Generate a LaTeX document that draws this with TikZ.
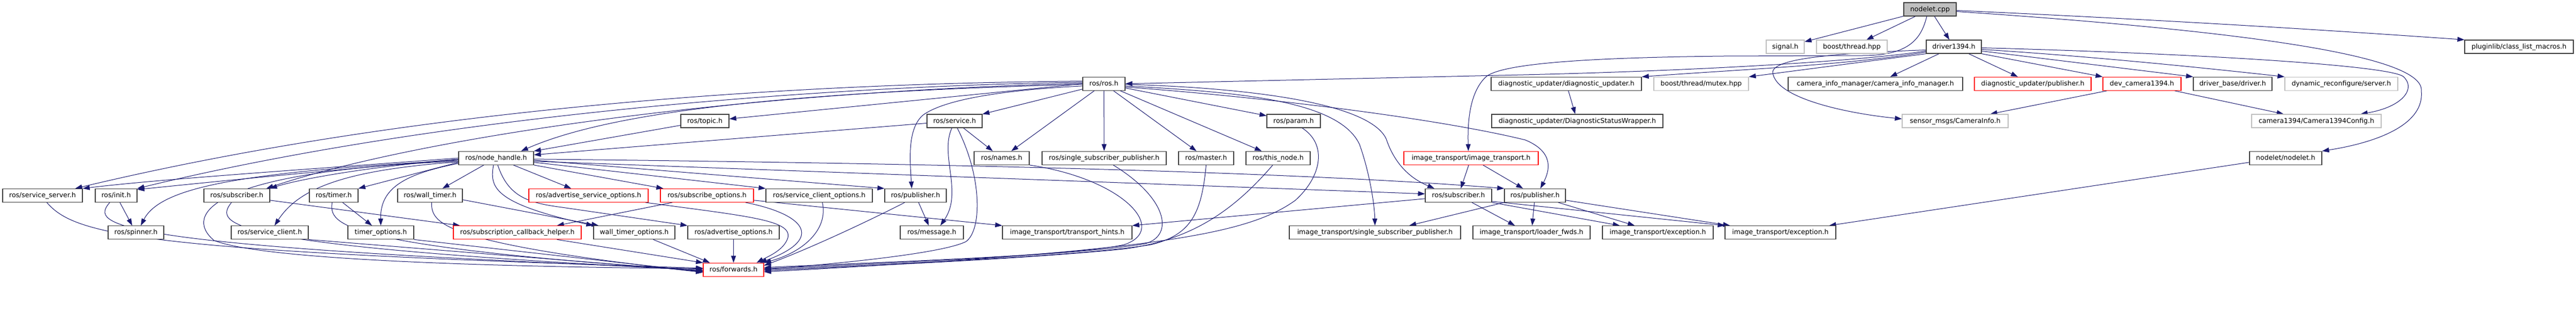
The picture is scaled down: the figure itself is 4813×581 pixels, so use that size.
\documentclass[tikz,border=0pt]{standalone}
\usepackage{fontspec}
\setmainfont{DejaVu Sans}
\usetikzlibrary{arrows.meta,calc,backgrounds}
\definecolor{edgeblue}{HTML}{191970}
\definecolor{boxgray}{HTML}{BFBFBF}
\definecolor{boxborder}{HTML}{404040}
\newcommand\gn[6]{\node[#6, minimum width=#4pt] (#1) at (#2,#3) {#5};}
\begin{document}
\begin{tikzpicture}[x=1pt,y=-1pt,
  every node/.style={font=\fontsize{12.5pt}{15pt}\selectfont, inner sep=0pt, minimum height=25pt, text height=9.5pt, text depth=2pt, line width=1.2pt},
  nbox/.style={draw=boxborder, fill=white},
  rbox/.style={draw=red, fill=white},
  gbox/.style={draw=boxgray, fill=white},
  rootbox/.style={draw=boxborder, fill=boxgray},
  edg/.style={draw=edgeblue, line width=1pt, -{Triangle[length=13pt,width=9pt]}},
]
\useasboundingbox (0,0) rectangle (4813,581);
% row 0
\gn{nodelet}{3606}{17.5}{98}{nodelet.cpp}{rootbox}
% row 1
\gn{signal}{3335.5}{87.5}{71}{signal.h}{gbox}
\gn{bthread}{3460}{87.5}{132}{boost/thread.hpp}{gbox}
\gn{driver}{3650.5}{87.5}{103}{driver1394.h}{nbox}
\gn{plugin}{4706.5}{87.5}{203}{pluginlib/class\_list\_macros.h}{nbox}
% row 2
\gn{rosh}{2062.5}{156.8}{79}{ros/ros.h}{nbox}
\gn{diagupd}{2926.5}{156.8}{281}{diagnostic\_updater/diagnostic\_updater.h}{nbox}
\gn{mutex}{3178.5}{156.8}{177}{boost/thread/mutex.hpp}{gbox}
\gn{caminfo}{3504}{156.8}{326}{camera\_info\_manager/camera\_info\_manager.h}{nbox}
\gn{diagpub}{3798}{156.8}{218}{diagnostic\_updater/publisher.h}{rbox}
\gn{devcam}{4002}{156.8}{146}{dev\_camera1394.h}{rbox}
\gn{drvbase}{4171.5}{156.8}{147}{driver\_base/driver.h}{nbox}
\gn{dynrec}{4374.5}{156.8}{211}{dynamic\_reconfigure/server.h}{gbox}
% row 3
\gn{topic}{1317}{226.5}{90}{ros/topic.h}{nbox}
\gn{service}{1783.5}{226.5}{103}{ros/service.h}{nbox}
\gn{param}{2417}{226.5}{100}{ros/param.h}{nbox}
\gn{diagstat}{2947}{226.5}{320}{diagnostic\_updater/DiagnosticStatusWrapper.h}{nbox}
\gn{sensor}{3653}{226.5}{198}{sensor\_msgs/CameraInfo.h}{gbox}
\gn{camcfg}{4328}{226.5}{242}{camera1394/Camera1394Config.h}{gbox}
% row 4
\gn{nh}{927}{295.8}{140}{ros/node\_handle.h}{nbox}
\gn{names}{1871.5}{295.8}{103}{ros/names.h}{nbox}
\gn{ssp}{2063}{295.8}{232}{ros/single\_subscriber\_publisher.h}{nbox}
\gn{master}{2253.5}{295.8}{103}{ros/master.h}{nbox}
\gn{thisnode}{2388}{295.8}{120}{ros/this\_node.h}{nbox}
\gn{itrans}{2748.5}{295.8}{251}{image\_transport/image\_transport.h}{rbox}
\gn{nodeleth}{4270.5}{295.8}{135}{nodelet/nodelet.h}{nbox}
% row 5
\gn{sserver}{79.5}{365.8}{149}{ros/service\_server.h}{nbox}
\gn{init}{217}{365.8}{78}{ros/init.h}{nbox}
\gn{sub1}{442.5}{365.8}{123}{ros/subscriber.h}{nbox}
\gn{timer}{623.5}{365.8}{91}{ros/timer.h}{nbox}
\gn{wtimer}{803.5}{365.8}{121}{ros/wall\_timer.h}{nbox}
\gn{aso}{1099.5}{365.8}{223}{ros/advertise\_service\_options.h}{rbox}
\gn{subopt}{1321}{365.8}{174}{ros/subscribe\_options.h}{rbox}
\gn{sco}{1530.5}{365.8}{199}{ros/service\_client\_options.h}{nbox}
\gn{pub1}{1710.5}{365.8}{115}{ros/publisher.h}{nbox}
\gn{sub2}{2725}{365.8}{124}{ros/subscriber.h}{nbox}
\gn{pub2}{2868}{365.8}{114}{ros/publisher.h}{nbox}
% row 6
\gn{spinner}{254}{435.2}{104}{ros/spinner.h}{nbox}
\gn{sclient}{504}{435.2}{144}{ros/service\_client.h}{nbox}
\gn{topt}{711.5}{435.2}{123}{timer\_options.h}{nbox}
\gn{sch}{966.5}{435.2}{239}{ros/subscription\_callback\_helper.h}{rbox}
\gn{wtopt}{1185}{435.2}{152}{wall\_timer\_options.h}{nbox}
\gn{aopt}{1370.5}{435.2}{171}{ros/advertise\_options.h}{nbox}
\gn{msg}{1741}{435.2}{118}{ros/message.h}{nbox}
\gn{thints}{1994}{435.2}{242}{image\_transport/transport\_hints.h}{nbox}
\gn{itssp}{2569}{435.2}{320}{image\_transport/single\_subscriber\_publisher.h}{nbox}
\gn{loader}{2861.5}{435.2}{219}{image\_transport/loader\_fwds.h}{nbox}
\gn{exc1}{3097.5}{435.2}{207}{image\_transport/exception.h}{nbox}
\gn{exc2}{3326.5}{435.2}{207}{image\_transport/exception.h}{nbox}
% row 7
\gn{fwd}{1370.5}{504.8}{113}{ros/forwards.h}{rbox}

\begin{scope}[on background layer]
\fill[white] (0,0) rectangle (4813,581);
% nodelet.cpp
\draw[edg] (nodelet) -- (signal);
\draw[edg] (nodelet) -- (bthread);
\draw[edg] (nodelet) -- (driver);
\draw[edg] ($(nodelet.east)+(0,2)$) .. controls (4100,40) and (4400,60) .. (plugin.north west);
\draw[edg] ($(nodelet.east)+(0,4)$) .. controls (4150,55) and (4530,100) .. (4524,170) .. controls (4530,230) and (4450,265) .. (nodeleth.north east);
\draw[edg] ($(nodelet.south)+(-6,0)$) .. controls (3590,70) and (3570,104) .. (3480,104) -- (3220,105) .. controls (2950,108) and (2800,120) .. (2775,145) .. controls (2745,175) and (2742,230) .. ($(itrans.north)+(-5,0)$);
% driver1394.h
\draw[edg] ($(driver.west)+(0,8)$) .. controls (3450,118) and (3100,135) .. (2800,141) -- (rosh.east);
\draw[edg] ($(driver.west)+(0,10)$) .. controls (3450,122) and (3250,130) .. (diagupd.north east);
\draw[edg] (driver.south west) -- (mutex.north east);
\draw[edg] ($(driver.west)+(0,6)$) .. controls (3420,100) and (3300,110) .. (3313,140) .. controls (3325,185) and (3450,212) .. ($(sensor.west)+(0,-4)$);
\draw[edg] (driver) -- (caminfo);
\draw[edg] (driver) -- (diagpub);
\draw[edg] (driver.south east) -- (devcam.north west);
\draw[edg] ($(driver.east)+(0,8)$) -- (drvbase.north west);
\draw[edg] ($(driver.east)+(0,5)$) .. controls (3900,105) and (4100,125) .. (dynrec.north west);
\draw[edg] ($(driver.east)+(0,2)$) .. controls (4100,100) and (4460,122) .. (4490,143) .. controls (4515,165) and (4490,200) .. ($(camcfg.north east)+(-39,0)$);
\draw[edg] (devcam) -- (sensor);
\draw[edg] (devcam) -- (camcfg);
\draw[edg] (diagupd) -- (diagstat);
% ros/ros.h
\draw[edg] (rosh.west) -- ($(topic.east)+(0,-4)$);
\draw[edg] (rosh) -- (service);
\draw[edg] (rosh) -- (names);
\draw[edg] (rosh) -- (ssp);
\draw[edg] (rosh) -- (master);
\draw[edg] (rosh) -- (thisnode);
\draw[edg] (rosh) -- (param);
\draw[edg] ($(rosh.west)+(0,-5)$) .. controls (1600,155) and (840,185) .. ($(sserver.north east)+(-14,0)$);
\draw[edg] ($(rosh.west)+(0,-3)$) .. controls (1500,162) and (800,220) .. (init.north east);
\draw[edg] ($(rosh.west)+(0,-1)$) .. controls (1300,175) and (750,268) .. ($(sub1.north east)+(-7,0)$);
\draw[edg] ($(rosh.west)+(0,1)$) .. controls (1500,172) and (1150,205) .. ($(nh.north east)+(-24,0)$);
\draw[edg] ($(rosh.west)+(0,4)$) .. controls (1850,170) and (1760,190) .. (1725,215) .. controls (1695,240) and (1700,300) .. ($(pub1.north)+(-7,0)$);
\draw[edg] ($(rosh.east)+(0,1)$) .. controls (2350,165) and (2560,195) .. (2590,260) .. controls (2610,320) and (2650,340) .. ($(sub2.north)+(-45,0)$);
\draw[edg] ($(rosh.east)+(0,4)$) .. controls (2300,172) and (2500,185) .. (2540,270) .. controls (2558,320) and (2568,380) .. (itssp.north);
\draw[edg] ($(rosh.east)+(0,6)$) .. controls (2400,185) and (2700,225) .. (2850,262) .. controls (2905,285) and (2895,320) .. ($(pub2.north)+(10,0)$);
% topic, service
\draw[edg] ($(topic.west)+(0,8)$) -- (nh.north east);
\draw[edg] ($(service.west)+(0,4)$) -- ($(nh.east)+(0,-6)$);
\draw[edg] (service) -- (names);
\draw[edg] ($(service.south)+(-5,0)$) .. controls (1755,290) and (1800,360) .. ($(msg.north)+(16,0)$);
\draw[edg] ($(service.south)+(5,0)$) .. controls (1835,330) and (1835,430) .. (1805,452) .. controls (1760,475) and (1550,495) .. ($(fwd.east)+(0,-1)$);
% node_handle
\draw[edg] (nh.west) .. controls (600,315) and (300,335) .. (sserver.north east);
\draw[edg] ($(nh.west)+(0,2)$) .. controls (600,320) and (400,340) .. ($(init.north east)+(0,2)$);
\draw[edg] ($(nh.west)+(0,4)$) .. controls (450,322) and (300,350) .. ($(spinner.north)+(9,0)$);
\draw[edg] ($(nh.west)+(0,3)$) .. controls (700,310) and (560,335) .. (sub1.north east);
\draw[edg] ($(nh.west)+(0,6)$) .. controls (400,320) and (340,400) .. (400,450) .. controls (500,490) and (1000,500) .. ($(fwd.west)+(0,-2)$);
\draw[edg] ($(nh.west)+(0,8)$) -- (timer.north east);
\draw[edg] ($(nh.west)+(0,7)$) .. controls (650,318) and (560,350) .. ($(sclient.north)+(9,0)$);
\draw[edg] ($(nh.west)+(0,10)$) .. controls (760,325) and (710,350) .. (topt.north);
\draw[edg] (nh) -- (wtimer);
\draw[edg] (nh) -- (aso);
\draw[edg] ($(nh.south)+(-5,0)$) .. controls (915,350) and (920,380) .. (wtopt.north west);
\draw[edg] ($(nh.south)+(3,0)$) .. controls (950,370) and (990,380) .. (1050,388) -- (aopt.north west);
\draw[edg] (nh.south east) -- ($(subopt.north west)+(6,0)$);
\draw[edg] ($(nh.east)+(0,8)$) -- (sco.north west);
\draw[edg] ($(nh.east)+(0,4)$) -- (pub1.north west);
\draw[edg] ($(nh.east)+(0,6)$) -- ($(sub2.west)+(0,-3)$);
\draw[edg] ($(nh.east)+(0,2)$) .. controls (1700,305) and (2400,320) .. (pub2.north west);
% row 5 to row 6
\draw[edg] (init) -- (spinner);
\draw[edg] ($(sub1.east)+(0,9)$) -- ($(sch.north west)+(13,0)$);
\draw[edg] (timer) -- (topt);
\draw[edg] ($(wtimer.east)+(0,8)$) -- ($(wtopt.north west)+(10,0)$);
\draw[edg] ($(subopt.south west)+(23,0)$) -- ($(sch.north east)+(-46,0)$);
\draw[edg] ($(subopt.east)+(0,9)$) -- (thints.north west);
\draw[edg] (pub1) -- (msg);
% into ros/forwards.h
\draw[edg] ($(sserver.south)+(8,0)$) .. controls (140,440) and (260,470) .. ($(fwd.west)+(0,-3)$);
\draw[edg] ($(init.south)+(-12,0)$) .. controls (170,420) and (180,460) .. ($(fwd.west)+(0,-1)$);
\draw[edg] ($(sub1.south)+(-10,0)$) .. controls (400,420) and (410,460) .. ($(fwd.west)+(0,1)$);
\draw[edg] ($(timer.south)+(-3,0)$) .. controls (615,420) and (630,460) .. ($(fwd.west)+(0,2)$);
\draw[edg] (sclient.south east) -- ($(fwd.west)+(0,3)$);
\draw[edg] (topt.south east) -- ($(fwd.west)+(0,4)$);
\draw[edg] ($(wtimer.south)+(3,0)$) .. controls (805,420) and (830,455) .. ($(fwd.west)+(0,5)$);
\draw[edg] ($(sch.south east)+(-46,0)$) -- (fwd.north west);
\draw[edg] ($(wtopt.south east)+(-41,0)$) -- ($(fwd.north west)+(13,0)$);
\draw[edg] (aopt) -- (fwd);
\draw[edg] ($(aso.south east)+(-6,0)$) .. controls (1400,405) and (1480,412) .. (1472,445) .. controls (1465,468) and (1435,480) .. ($(fwd.north east)+(-14,0)$);
\draw[edg] ($(subopt.south east)+(-16,0)$) .. controls (1500,400) and (1545,445) .. ($(fwd.north east)+(-8,0)$);
\draw[edg] ($(sco.south)+(6,0)$) .. controls (1548,430) and (1500,472) .. (fwd.north east);
\draw[edg] ($(pub1.south)+(-20,0)$) .. controls (1600,425) and (1500,470) .. ($(fwd.east)+(0,-8)$);
\draw[edg] (names.south east) .. controls (2100,335) and (2185,430) .. (2100,458) .. controls (2000,480) and (1600,492) .. ($(fwd.east)+(0,-4)$);
\draw[edg] ($(ssp.south)+(17,0)$) .. controls (2180,370) and (2195,440) .. (2140,456) .. controls (2000,480) and (1600,494) .. ($(fwd.east)+(0,-2)$);
\draw[edg] (master.south) .. controls (2245,400) and (2225,440) .. (2150,458) .. controls (2000,482) and (1600,496) .. (fwd.east);
\draw[edg] ($(thisnode.south)+(-10,0)$) .. controls (2300,400) and (2220,450) .. (2100,466) .. controls (1900,486) and (1600,498) .. ($(fwd.east)+(0,2)$);
\draw[edg] ($(param.south)+(16,0)$) .. controls (2480,270) and (2470,330) .. (2420,375) .. controls (2330,440) and (2150,470) .. ($(fwd.east)+(0,4)$);
% image_transport
\draw[edg] (itrans) -- (sub2);
\draw[edg] (itrans) -- (pub2);
\draw[edg] ($(sub2.west)+(0,6)$) -- (thints.north east);
\draw[edg] ($(sub2.south)+(25,0)$) -- ($(loader.north)+(-31,0)$);
\draw[edg] (sub2.south east) -- ($(exc1.north west)+(33,0)$);
\draw[edg] ($(sub2.south east)+(0,-2)$) -- (exc2.north west);
\draw[edg] (pub2) -- (loader);
\draw[edg] (pub2) -- (exc1);
\draw[edg] ($(pub2.east)+(0,9)$) -- ($(exc2.north west)+(10,0)$);
\draw[edg] (pub2.south west) -- ($(itssp.north)+(64,0)$);
\draw[edg] ($(nodeleth.west)+(0,8)$) -- ($(exc2.north east)+(-13,0)$);
\end{scope}
\end{tikzpicture}
\end{document}
